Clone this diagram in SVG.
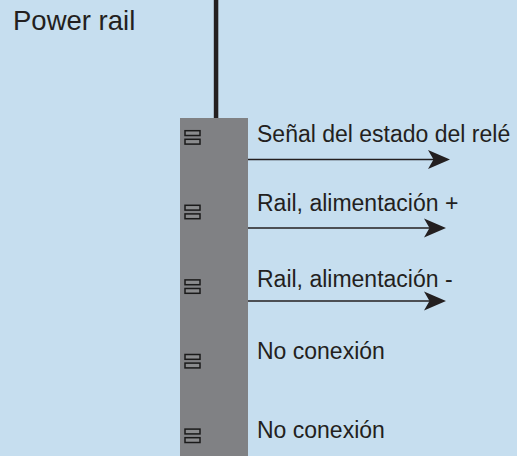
<svg xmlns="http://www.w3.org/2000/svg" width="517" height="456" viewBox="0 0 517 456">
  <defs>
    <style>
      .lbl { font-family: "Liberation Sans", Arial, sans-serif; font-size: 23px; fill: #231f20; }
      .title { font-family: "Liberation Sans", Arial, sans-serif; font-size: 27.5px; fill: #231f20; }
      .pin { fill: #8a8b8d; stroke: #1a1a1a; stroke-width: 1.5; }
      .conn { stroke: #231f20; stroke-width: 1.6; fill: none; }
      .head { fill: #231f20; }
    </style>
    <g id="pinIcon">
      <rect class="pin" x="0" y="0" width="15" height="4.8"/>
      <rect class="pin" x="0" y="8.6" width="15" height="4.8"/>
    </g>
  </defs>
  <rect x="0" y="0" width="517" height="456" fill="#c6deef"/>

  <g id="title">
    <text class="title" x="13" y="30">Power rail</text>
  </g>

  <g id="wire">
    <rect x="213.8" y="0" width="4.5" height="119" fill="#231f20"/>
  </g>

  <g id="terminal-block">
    <rect x="180" y="118" width="68" height="338" fill="#808184"/>
    <use href="#pinIcon" x="185" y="130.7"/>
    <use href="#pinIcon" x="185" y="205.3"/>
    <use href="#pinIcon" x="185" y="279.9"/>
    <use href="#pinIcon" x="185" y="354.5"/>
    <use href="#pinIcon" x="185" y="429.1"/>
  </g>

  <g id="connectors">
    <line class="conn" x1="248" y1="159.5" x2="434" y2="159.5"/>
    <path class="head" d="M450,159.5 L428,150 L433.5,159.5 L428,169 Z"/>
    <line class="conn" x1="248" y1="228" x2="430" y2="228"/>
    <path class="head" d="M446,228 L424,218.5 L429.5,228 L424,237.5 Z"/>
    <line class="conn" x1="248" y1="301" x2="430" y2="301"/>
    <path class="head" d="M446,301 L424,291.5 L429.5,301 L424,310.5 Z"/>
  </g>

  <g id="label-1"><text class="lbl" x="257" y="142.3">Señal del estado del relé</text></g>
  <g id="label-2"><text class="lbl" x="257" y="210.7">Rail, alimentación +</text></g>
  <g id="label-3"><text class="lbl" x="257" y="287.3">Rail, alimentación -</text></g>
  <g id="label-4"><text class="lbl" x="257" y="359.3">No conexión</text></g>
  <g id="label-5"><text class="lbl" x="257" y="438.3">No conexión</text></g>
</svg>
